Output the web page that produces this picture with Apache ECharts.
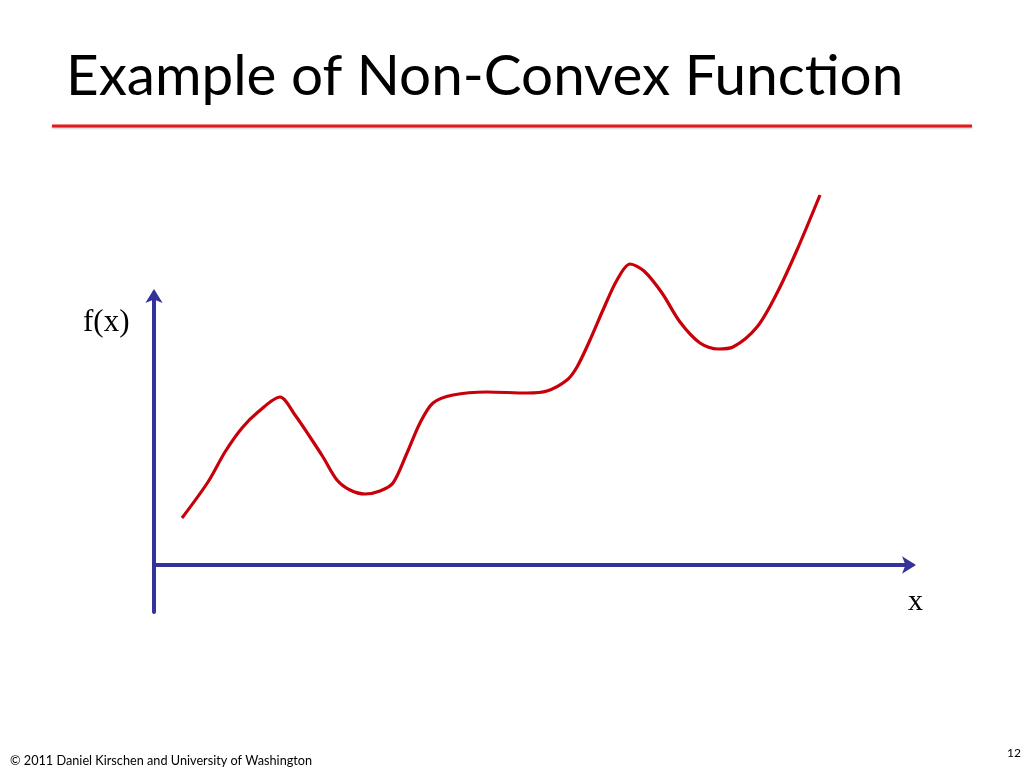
<!DOCTYPE html>
<html><head><meta charset="utf-8">
<script src="https://cdn.jsdelivr.net/npm/echarts@6/dist/echarts.min.js"></script>
<style>html,body{margin:0;padding:0;background:#fff}#c{width:1024px;height:768px}</style>
</head><body><div id="c"></div>
<script>
// Curve (x along horizontal axis, y = f(x))
const xValues = [2.8, 5.4, 7.1, 8.8, 10.4, 12.6, 14.1, 15.6, 16.9, 18.3, 19.6, 21.1, 22.6, 23.9, 25.3, 26.6, 27.9, 29.9, 33.3, 37.3, 39.3, 41.3, 42.3, 43.6, 44.9, 46.3, 47.6, 49.0, 50.8, 52.6, 54.6, 56.4, 57.9, 60.3, 62.3, 64.3, 66.6];
const yValues = [4.7, 8.3, 11.3, 13.7, 15.3, 16.8, 15.0, 12.8, 10.8, 8.5, 7.5, 7.1, 7.4, 8.2, 11.2, 14.2, 16.2, 17.0, 17.3, 17.2, 17.4, 18.5, 19.8, 22.5, 25.5, 28.5, 30.1, 29.4, 27.2, 24.3, 22.2, 21.6, 21.8, 23.8, 27.2, 31.5, 37.0];
const titleText = "Example of Non-Convex Function";
const yLabel = "f(x)";
const xLabel = "x";
const footerText = "© 2011 Daniel Kirschen and University of Washington";
const pageNumber = "12";

const chart = echarts.init(document.getElementById('c'));
const axisColor = '#333399';
chart.setOption({
  animation: false,
  backgroundColor: '#fff',
  title: [
    {text: titleText, left: 61, top: 43, textStyle: {fontFamily: 'Lato', fontWeight: 'normal', fontSize: 56.6, color: '#000'}},
    {text: yLabel, left: 78, top: 302, textStyle: {fontFamily: 'Liberation Serif', fontWeight: 'normal', fontSize: 31, color: '#000'}},
    {text: xLabel, left: 903, top: 582, textStyle: {fontFamily: 'Liberation Serif', fontWeight: 'normal', fontSize: 30, color: '#000'}},
    {text: footerText, left: 5, top: 749, textStyle: {fontFamily: 'Lato', fontWeight: 'normal', fontSize: 12.7, color: '#000'}},
    {text: pageNumber, left: 1002, top: 742, textStyle: {fontFamily: 'Lato', fontWeight: 'normal', fontSize: 12, color: '#000'}}
  ],
  graphic: [
    {type: 'line', shape: {x1: 52, y1: 126, x2: 972, y2: 126}, style: {stroke: '#e31b1b', lineWidth: 3, shadowColor: 'rgba(0,0,0,0.25)', shadowBlur: 2, shadowOffsetY: 1}}
  ],
  grid: {left: 154, right: 112, top: 293, bottom: 156},
  xAxis: {
    type: 'value', min: 0, max: 75.8,
    axisLine: {onZero: true, lineStyle: {color: axisColor, width: 4}, symbol: ['none', 'arrow'], symbolSize: [13, 14], symbolOffset: [0, 4]},
    axisTick: {show: false}, axisLabel: {show: false}, splitLine: {show: false}
  },
  yAxis: {
    type: 'value', min: -4.7, max: 27.2,
    axisLine: {show: true, onZero: false, lineStyle: {color: axisColor, width: 4}, symbol: ['none', 'arrow'], symbolSize: [13, 14], symbolOffset: [0, 4]},
    axisTick: {show: false}, axisLabel: {show: false}, splitLine: {show: false}
  },
  series: [{
    type: 'line',
    data: xValues.map((x, i) => [x, yValues[i]]),
    smooth: 0.3,
    showSymbol: false,
    clip: false,
    lineStyle: {color: '#c8000a', width: 3.2}
  }]
});
</script>
</body></html>
